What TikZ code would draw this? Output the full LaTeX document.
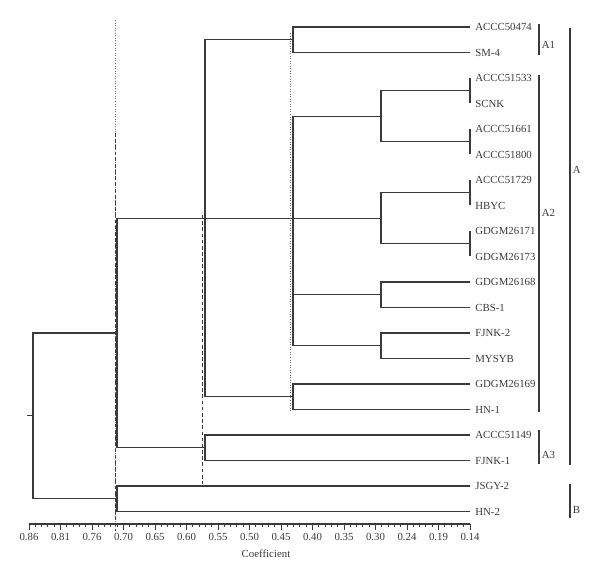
\documentclass[tikz,border=0pt]{standalone}
\usepackage{fontspec}
\setmainfont{Liberation Serif}
\usetikzlibrary{calc}
\definecolor{Ink}{HTML}{3A3A3A}
\definecolor{Guide}{HTML}{6E6E6E}
\tikzset{
  branch/.style={draw=Ink,line width=0.75pt},
  leaf/.style={anchor=west,inner xsep=3.6pt,inner ysep=0pt,text height=5pt,text depth=0pt,text=Ink,font=\fontsize{7.7}{9}\selectfont},
  grouplabel/.style={leaf,inner xsep=1.8pt},
  ticklabel/.style={inner sep=0pt,text=Ink,font=\fontsize{7.7}{9}\selectfont},
  cutdot/.style={draw=Guide,dash pattern=on 0.7pt off 1.1pt,line width=0.7pt},
  cutdash/.style={draw=Ink,dash pattern=on 2.6pt off 1.8pt,line width=0.6pt}
}
\begin{document}
\begin{tikzpicture}[x=0.025cm,y=-0.025cm]
\useasboundingbox (0,0) rectangle (600,582);
\foreach \name [count=\i] in {ACCC50474,SM-4,ACCC51533,SCNK,ACCC51661,ACCC51800,ACCC51729,HBYC,GDGM26171,GDGM26173,GDGM26168,CBS-1,FJNK-2,MYSYB,GDGM26169,HN-1,ACCC51149,FJNK-1,JSGY-2,HN-2}
  \node[leaf] (l\i) at (470,{27+25.5*(\i-1)}) {\name};
\coordinate (root) at (33,415.9);
\coordinate (stub) at (27,415.9);
\coordinate (nRA) at (117,333);
\coordinate (nB) at (117,498.75);
\coordinate (nA) at (205,218.25);
\coordinate (nA3) at (205,447.75);
\coordinate (nA1) at (293,39.75);
\coordinate (nA2) at (293,218.25);
\coordinate (nHN) at (293,396.75);
\coordinate (g1) at (381,116.25);
\coordinate (g2) at (381,218.25);
\coordinate (g3) at (381,294.75);
\coordinate (g4) at (381,345.75);
\coordinate (g1a) at (470,90.75);
\coordinate (g1b) at (470,141.75);
\coordinate (g2a) at (470,192.75);
\coordinate (g2b) at (470,243.75);
\draw[branch] (root) -- (stub);
\foreach \p/\c in {root/nRA,root/nB,nRA/nA,nRA/nA3,nA/nA1,nA/nA2,nA/nHN,nA2/g1,nA2/g2,nA2/g3,nA2/g4,g1/g1a,g1/g1b,g2/g2a,g2/g2b}
  \draw[branch] (\p) |- (\c);
\foreach \p/\c in {nA1/l1,nA1/l2,g1a/l3,g1a/l4,g1b/l5,g1b/l6,g2a/l7,g2a/l8,g2b/l9,g2b/l10,g3/l11,g3/l12,g4/l13,g4/l14,nHN/l15,nHN/l16,nA3/l17,nA3/l18,nB/l19,nB/l20}
  \draw[branch] (\p) |- (\c.west);
\draw[cutdot] (115,20) -- (115,531);
\draw[cutdash] (115,133) -- (115,531);
\draw[cutdot] (290,33) -- (290,411);
\draw[cutdash] (202,215) -- (202,484);
\draw[branch] (29,524) coordinate (ax0) -- (470,524) coordinate (ax1);
\foreach \m in {0,...,70}
  \draw[branch,line width=0.6pt] ({29+6.3*\m},524) -- ++(0,3.5);
\foreach \v [count=\k from 0] in {0.86,0.81,0.76,0.70,0.65,0.60,0.55,0.50,0.45,0.40,0.35,0.30,0.24,0.19,0.14}{
  \draw[branch,line width=0.6pt] ({29+31.5*\k},524) -- ++(0,6);
  \node[ticklabel] (t\k) at ({29+31.5*\k},537) {\v};
}
\node[ticklabel] (coef) at (266,554) {Coefficient};
\draw[branch] (539,24) -- (539,55);
\node[grouplabel] (gA1) at (539,45) {A1};
\draw[branch] (539,75) -- (539,412);
\node[grouplabel] (gA2) at (539,213) {A2};
\draw[branch] (539,430) -- (539,464);
\node[grouplabel] (gA3) at (539,455) {A3};
\draw[branch] (570,28) -- (570,465);
\node[grouplabel] (gA) at (570,170) {A};
\draw[branch] (570,484) -- (570,518);
\node[grouplabel] (gB) at (570,510) {B};
\end{tikzpicture}
\end{document}
